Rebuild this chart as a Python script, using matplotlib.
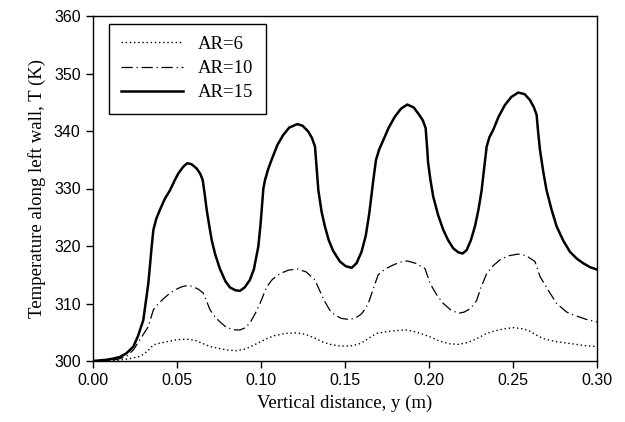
import matplotlib

matplotlib.use("Agg")
import matplotlib.pyplot as plt

# AR=15 (solid)
x15 = [0.0, 0.008, 0.012, 0.0163, 0.020, 0.0243, 0.027, 0.0302, 0.0332, 0.0352,
       0.0362, 0.0380, 0.0401, 0.043, 0.0461, 0.0490, 0.051, 0.054, 0.0564, 0.059,
       0.0619, 0.0640, 0.0655, 0.0665, 0.0679, 0.0695, 0.0709, 0.073, 0.0758, 0.079,
       0.0817, 0.0850, 0.0877, 0.0905, 0.0936, 0.0960, 0.0986, 0.1000, 0.1016, 0.1026,
       0.1045, 0.1065, 0.110, 0.1134, 0.117, 0.1218, 0.125, 0.1283, 0.1305, 0.1323,
       0.1333, 0.1343, 0.1362, 0.1382, 0.1405, 0.1430, 0.1471, 0.1505, 0.1541, 0.157,
       0.160, 0.1625, 0.1646, 0.167, 0.1686, 0.1705, 0.1729, 0.176, 0.1798, 0.1835,
       0.1872, 0.191, 0.1943, 0.1965, 0.1981, 0.1990, 0.1996, 0.2010, 0.2026, 0.2055,
       0.2086, 0.2115, 0.2145, 0.2175, 0.2201, 0.2225, 0.2250, 0.2274, 0.2295, 0.2314,
       0.2330, 0.2344, 0.236, 0.2383, 0.2415, 0.2452, 0.249, 0.2532, 0.2570, 0.2601,
       0.2625, 0.2641, 0.2651, 0.2661, 0.268, 0.270, 0.273, 0.276, 0.280, 0.2839,
       0.288, 0.2918, 0.296, 0.30]
y15 = [300.0, 300.2, 300.4, 300.7, 301.3, 302.5, 304.3, 307.1, 313.5, 319.9,
       322.8, 324.8, 326.3, 328.2, 329.7, 331.5, 332.6, 333.8, 334.4, 334.2,
       333.5, 332.6, 331.5, 329.5, 326.3, 323.4, 321.0, 318.5, 316.0, 313.9,
       312.8, 312.3, 312.2, 312.8, 314.1, 316.0, 319.9, 324.0, 330.0, 331.5,
       333.4, 335.0, 337.6, 339.3, 340.6, 341.2, 340.9, 339.9, 338.8, 337.3,
       333.5, 329.7, 326.0, 323.4, 321.0, 319.2, 317.3, 316.5, 316.2, 317.0,
       319.0, 321.8, 325.7, 331.5, 335.0, 336.8, 338.4, 340.5, 342.5, 343.9,
       344.6, 344.1, 342.8, 341.8, 340.5, 337.0, 334.4, 331.4, 328.6, 325.4,
       322.8, 321.0, 319.6, 318.9, 318.7, 319.3, 321.0, 323.4, 326.3, 329.7,
       333.8, 337.3, 338.9, 340.2, 342.5, 344.5, 345.9, 346.7, 346.4, 345.4,
       344.1, 342.8, 339.5, 336.7, 333.0, 329.7, 326.3, 323.4, 320.9, 319.0,
       317.8, 317.0, 316.3, 315.9]

# AR=10 (dash-dot)
x10 = [0.0, 0.010, 0.015, 0.0203, 0.0245, 0.0282, 0.0332, 0.0362, 0.039, 0.0421,
       0.046, 0.050, 0.053, 0.056, 0.059, 0.0629, 0.0659, 0.068, 0.0699, 0.073,
       0.0758, 0.079, 0.0820, 0.085, 0.0877, 0.091, 0.0940, 0.097, 0.0996, 0.1036,
       0.107, 0.1115, 0.1165, 0.1218, 0.127, 0.1323, 0.1350, 0.1382, 0.141, 0.1440,
       0.148, 0.1531, 0.157, 0.160, 0.162, 0.164, 0.167, 0.1699, 0.174, 0.1788,
       0.1830, 0.1872, 0.192, 0.1977, 0.2007, 0.2045, 0.2086, 0.213, 0.2175, 0.221,
       0.2240, 0.2265, 0.2284, 0.2310, 0.2344, 0.238, 0.2423, 0.2475, 0.2532, 0.258,
       0.2631, 0.2661, 0.2710, 0.276, 0.282, 0.2880, 0.294, 0.30]
y10 = [300.0, 300.1, 300.3, 300.8, 302.0, 303.7, 306.0, 308.9, 309.9, 310.8,
       311.8, 312.5, 312.9, 313.1, 313.0, 312.5, 311.8, 310.3, 308.9, 307.6,
       306.8, 306.0, 305.6, 305.4, 305.4, 305.8, 306.8, 308.4, 310.0, 312.9,
       314.2, 315.2, 315.8, 316.0, 315.5, 314.1, 312.3, 310.3, 308.9, 308.0,
       307.4, 307.2, 307.6, 308.2, 309.0, 310.0, 312.6, 315.0, 316.0, 316.7,
       317.2, 317.4, 317.0, 316.1, 313.5, 311.6, 310.0, 308.9, 308.3, 308.5,
       309.0, 309.7, 310.5, 312.8, 315.2, 316.5, 317.6, 318.3, 318.6, 318.3,
       317.3, 314.7, 312.3, 310.0, 308.5, 307.8, 307.2, 306.8]

# AR=6 (dotted)
x6 = [0.0, 0.015, 0.022, 0.0282, 0.031, 0.0330, 0.0362, 0.040, 0.045, 0.050,
      0.056, 0.061, 0.0659, 0.070, 0.075, 0.080, 0.0857, 0.091, 0.0976, 0.103,
      0.108, 0.115, 0.1214, 0.127, 0.132, 0.137, 0.1412, 0.147, 0.1531, 0.158,
      0.162, 0.166, 0.169, 0.175, 0.1810, 0.1868, 0.193, 0.2007, 0.206, 0.212,
      0.2175, 0.223, 0.2280, 0.2344, 0.240, 0.2450, 0.2502, 0.2560, 0.260, 0.264,
      0.268, 0.275, 0.285, 0.292, 0.30]
y6 = [300.0, 300.1, 300.4, 300.8, 301.3, 301.8, 302.8, 303.1, 303.4, 303.7,
      303.8, 303.6, 303.0, 302.5, 302.2, 301.9, 301.8, 302.1, 303.0, 303.8,
      304.4, 304.8, 304.9, 304.6, 304.0, 303.3, 302.9, 302.6, 302.6, 302.9,
      303.5, 304.3, 304.8, 305.1, 305.3, 305.4, 305.0, 304.2, 303.5, 303.0,
      302.9, 303.2, 303.8, 304.8, 305.3, 305.6, 305.8, 305.6, 305.2, 304.5,
      303.9, 303.4, 303.0, 302.7, 302.5]

xticks = [0.00, 0.05, 0.10, 0.15, 0.20, 0.25, 0.30]
yticks = [300, 310, 320, 330, 340, 350, 360]

serif = ["Liberation Serif", "DejaVu Serif"]
sans = ["Liberation Sans", "DejaVu Sans"]

fig = plt.figure(figsize=(6.25, 4.22), dpi=100)
ax = fig.add_axes([92.5 / 625, 1 - 361 / 422, 504.5 / 625, 345 / 422])

ax.plot(x6, y6, color="black", lw=1.0, linestyle=(0, (1, 2)), label="AR=6")
ax.plot(x10, y10, color="black", lw=0.9, linestyle=(0, (9, 3, 1, 3)), label="AR=10")
ax.plot(x15, y15, color="black", lw=1.8, solid_joinstyle="round", label="AR=15")

ax.set_xlim(0, 0.30)
ax.set_ylim(300, 360)
ax.set_xticks(xticks)
ax.set_yticks(yticks)
ax.set_xticklabels([f"{t:.2f}" for t in xticks], family=sans, fontsize=11.5)
ax.set_yticklabels([str(t) for t in yticks], family=sans, fontsize=11.5)
ax.tick_params(direction="out", length=5, width=1, colors="black")
for s in ax.spines.values():
    s.set_linewidth(1.0)

ax.set_xlabel("Vertical distance, y (m)", family=serif, fontsize=13.5, labelpad=5)
ax.set_ylabel("Temperature along left wall, T (K)", family=serif, fontsize=13.5, labelpad=6)

leg = ax.legend(loc="upper left", bbox_to_anchor=(0.033, 0.978), prop={"family": serif, "size": 13.5},
                frameon=True, fancybox=False, edgecolor="black", handlelength=3.3,
                handletextpad=0.8, borderpad=0.65, labelspacing=0.38, borderaxespad=0)
leg.get_frame().set_linewidth(1.0)
leg.get_frame().set_alpha(1.0)

fig.savefig("out.png", dpi=100)
